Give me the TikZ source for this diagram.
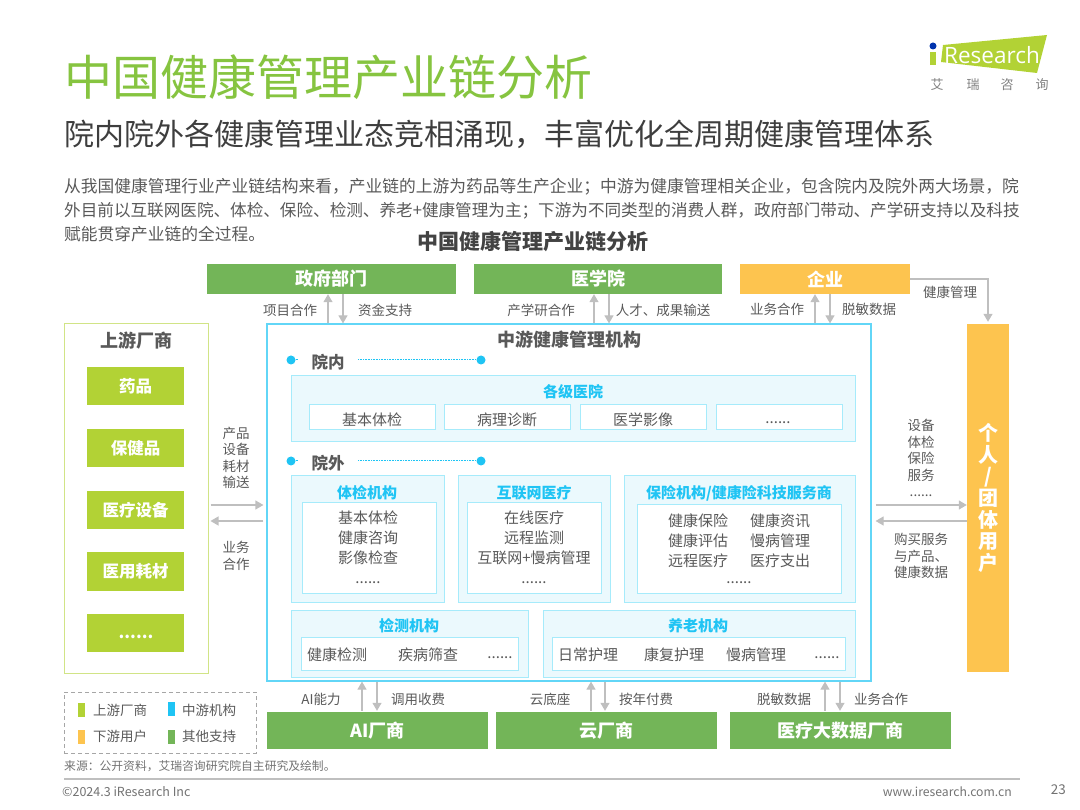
\documentclass[tikz,border=0pt]{standalone}
\usepackage{fontspec}
\setmainfont{Noto Sans CJK SC}
\newfontfamily\logofont{Open Sans}
\usetikzlibrary{arrows.meta,calc}
\definecolor{ttl}{HTML}{86C440}
\definecolor{txt}{HTML}{595959}
\definecolor{gr}{HTML}{73B558}
\definecolor{lime}{HTML}{B2D235}
\definecolor{org}{HTML}{FDC44F}
\definecolor{cy}{HTML}{1FC4F4}
\definecolor{cyl}{HTML}{A6EBFB}
\definecolor{pan}{HTML}{EBF9FD}
\definecolor{arr}{HTML}{BFBFBF}
\newcommand\fsz[2]{\fontsize{#1pt}{#2pt}\selectfont}
\newcommand\rbox[7]{%
  \pgfmathsetmacro\cxx{(#2+#4)/2}\pgfmathsetmacro\cyy{(#3+#5)/2}%
  \pgfmathsetmacro\ww{#4-#2}\pgfmathsetmacro\hh{#5-#3}%
  \node[#6,minimum width=\ww pt,minimum height=\hh pt,inner sep=0pt] (#1) at (\cxx,\cyy) {#7};}
\tikzset{
  x=1pt,y=-1pt,
  greenbox/.style={fill=gr,text=white,font=\fsz{18}{22}\bfseries},
  limebox/.style={fill=lime,text=white,font=\fsz{16.5}{20}\bfseries},
  panel/.style={fill=pan,draw=cyl,line width=1pt},
  inner box/.style={fill=white,draw=cyl,line width=1pt,text=txt,font=\fsz{15}{20}},
  paneltitle/.style={text=cy,font=\fsz{15}{18}\bfseries,inner sep=0pt},
  lbl/.style={text=txt,font=\fsz{13.5}{16.5},inner sep=0pt,align=center},
  item/.style={text=txt,font=\fsz{15}{20},inner sep=0pt,align=center},
  ar/.style={draw=arr,line width=1.2pt,-{Triangle[length=8pt,width=9pt]}},
  dot/.style={circle,fill=cy,minimum size=9pt,inner sep=0pt},
  dotline/.style={cy,line width=1pt,dash pattern=on 1pt off 0.6pt},
  sect/.style={fill=white,text=txt,font=\fsz{16.5}{20}\bfseries,inner sep=0pt,minimum width=60pt,minimum height=20pt},
  logochar/.style={text=gray,font=\fsz{13}{16},inner sep=0pt},
}
\begin{document}
\begin{tikzpicture}
\useasboundingbox (0,0) rectangle (1080,810);
% Heading
\node[anchor=west,text=ttl,font=\fsz{48}{56},inner sep=0pt] (title) at (64,77) {中国健康管理产业链分析};
\node[anchor=west,text=txt!70!black,font=\fsz{30}{36},inner sep=0pt] (sub) at (64,134) {院内院外各健康管理业态竞相涌现，丰富优化全周期健康管理体系};
\node[anchor=west,text=txt,font=\fsz{16.75}{20},inner sep=0pt] (body1) at (64,187) {从我国健康管理行业产业链结构来看，产业链的上游为药品等生产企业；中游为健康管理相关企业，包含院内及院外两大场景，院};
\node[anchor=west,text=txt,font=\fsz{16.6}{20},inner sep=0pt] (body2) at (64,211) {外目前以互联网医院、体检、保险、检测、养老+健康管理为主；下游为不同类型的消费人群，政府部门带动、产学研支持以及科技};
\node[anchor=west,text=txt,font=\fsz{16.75}{20},inner sep=0pt] (body3) at (64,234) {赋能贯穿产业链的全过程。};
\node[text=txt!75!black,font=\fsz{21}{25}\bfseries,inner sep=0pt] (ctitle) at (533,242) {中国健康管理产业链分析};
% Logo
\fill[lime] (943,45) -- (1047,35) -- (1037,73) -- (941,62) -- cycle;
\fill[lime] (930,52) rectangle (936,65);
\fill[blue!60!black!80!cyan] (933,46) circle (3.5pt);
\node[text=white,font=\logofont\fsz{22.5}{26},inner sep=0pt,anchor=west] (logo) at (944,55) {Research};
\node[logochar] (l1) at (937,85) {艾};
\node[logochar] (l2) at (973,85) {瑞};
\node[logochar] (l3) at (1007,85) {咨};
\node[logochar] (l4) at (1042,85) {询};
% Top row
\rbox{gov}{207}{264}{456}{294}{greenbox}{政府部门}
\rbox{med}{474}{264}{722}{294}{greenbox}{医学院}
\rbox{ent}{740}{264}{910}{294}{fill=org,text=white,font=\fsz{18}{22}\bfseries}{企业}
% Upstream
\rbox{up}{64}{324}{208}{673}{draw=lime!60,line width=1pt,fill=white}{}
\node[text=txt,font=\fsz{18}{22}\bfseries,inner sep=0pt] (uptitle) at (136,341) {上游厂商};
\rbox{u1}{87}{367}{184}{405}{limebox}{药品}
\rbox{u2}{87}{429}{184}{467}{limebox}{保健品}
\rbox{u3}{87}{491}{184}{529}{limebox}{医疗设备}
\rbox{u4}{87}{552}{184}{591}{limebox}{医用耗材}
\rbox{u5}{87}{614}{184}{652}{limebox}{}
\node[text=white,font=\fsz{16.5}{20}\bfseries,inner sep=0pt] (u5x) at (136,637) {......};
% Middle
\rbox{mid}{267}{324}{871}{681}{draw=cy!70,line width=1.2pt,fill=white}{}
\node[text=txt,font=\fsz{18}{22}\bfseries,inner sep=0pt] (midtitle) at (569,340) {中游健康管理机构};
\node[dot] (d1) at (291,360) {};
\node[dot] (d2) at (481,360) {};
\draw[dotline] (d1) -- (d2);
\node[sect] (inn) at (328,362) {院内};
\rbox{hosp}{291}{376}{855}{442}{panel}{}
\node[paneltitle] (hospt) at (573,392) {各级医院};
\rbox{h1}{309}{405}{435}{430}{inner box}{}
\rbox{h2}{444}{405}{570}{430}{inner box}{}
\rbox{h3}{580}{405}{706}{430}{inner box}{}
\rbox{h4}{716}{405}{842}{430}{inner box}{}
\node[item] (h1x) at (372,420) {基本体检};
\node[item] (h2x) at (507,420) {病理诊断};
\node[item] (h3x) at (643,420) {医学影像};
\node[item] (h4x) at (778,423) {......};
\node[dot] (d3) at (291,461) {};
\node[dot] (d4) at (481,461) {};
\draw[dotline] (d3) -- (d4);
\node[sect] (out) at (328,463) {院外};
% Exam
\rbox{exam}{291}{476}{444}{602}{panel}{}
\node[paneltitle] (examt) at (367,493) {体检机构};
\rbox{examb}{302}{502}{436}{593}{inner box}{}
\node[item] (examx) at (368,547) {基本体检\\健康咨询\\影像检查\\......};
% Internet
\rbox{net}{458}{476}{610}{602}{panel}{}
\node[paneltitle] (nett) at (534,493) {互联网医疗};
\rbox{netb}{467}{502}{601}{593}{inner box}{}
\node[item] (netx) at (534,547) {在线医疗\\远程监测\\互联网+慢病管理\\......};
% Insurance
\rbox{ins}{624}{476}{855}{602}{panel}{}
\node[paneltitle] (inst) at (739,493) {保险机构/健康险科技服务商};
\rbox{insb}{637}{504}{841}{593}{inner box}{}
\node[item] (insx) at (698,541) {健康保险\\健康评估\\远程医疗};
\node[item] (insy) at (780,541) {健康资讯\\慢病管理\\医疗支出};
\node[item] (insz) at (739,583) {......};
% Testing
\rbox{test}{291}{610}{528}{677}{panel}{}
\node[paneltitle] (testt) at (409,626) {检测机构};
\rbox{testb}{301}{637}{518}{670}{inner box}{}
\node[item] (t1) at (337,654.5) {健康检测};
\node[item] (t2) at (428,654.5) {疾病筛查};
\node[item] (t3) at (500,658) {......};
% Elderly
\rbox{old}{543}{610}{855}{677}{panel}{}
\node[paneltitle] (oldt) at (698,626) {养老机构};
\rbox{oldb}{552}{637}{845}{670}{inner box}{}
\node[item] (o1) at (588,654.5) {日常护理};
\node[item] (o2) at (674,654.5) {康复护理};
\node[item] (o3) at (756,654.5) {慢病管理};
\node[item] (o4) at (827,658) {......};
% User
\rbox{user}{967}{324}{1009}{672}{fill=org,text=white,font=\fsz{20}{21.7}\bfseries,align=center}{个\\人\\/\\团\\体\\用\\户}
% Bottom
\rbox{ai}{267}{712}{488}{749}{greenbox}{AI厂商}
\rbox{cloud}{496}{712}{717}{749}{greenbox}{云厂商}
\rbox{big}{730}{712}{951}{749}{greenbox}{医疗大数据厂商}
% Top arrows
\draw[ar] (328,0 |- mid.north) -- (328,0 |- gov.south);
\draw[ar] (343,0 |- gov.south) -- (343,0 |- mid.north);
\draw[ar] (594,0 |- mid.north) -- (594,0 |- med.south);
\draw[ar] (609,0 |- med.south) -- (609,0 |- mid.north);
\draw[ar] (815,0 |- mid.north) -- (815,0 |- ent.south);
\draw[ar] (830,0 |- ent.south) -- (830,0 |- mid.north);
\draw[ar,shorten >=2pt] (ent.east) -| (user.north);
% Bottom arrows
\draw[ar,shorten <=1pt] (362,0 |- ai.north) -- (362,0 |- mid.south);
\draw[ar,shorten >=1pt] (377,0 |- mid.south) -- (377,0 |- ai.north);
\draw[ar,shorten <=1pt] (591,0 |- cloud.north) -- (591,0 |- mid.south);
\draw[ar,shorten >=1pt] (605,0 |- mid.south) -- (605,0 |- cloud.north);
\draw[ar,shorten <=1pt] (825,0 |- big.north) -- (825,0 |- mid.south);
\draw[ar,shorten >=1pt] (840,0 |- mid.south) -- (840,0 |- big.north);
% Side arrows
\draw[ar,shorten <=2pt,shorten >=3pt] (up.east |- 0,505) -- (mid.west |- 0,505);
\draw[ar,shorten <=3pt,shorten >=2pt] (mid.west |- 0,521) -- (up.east |- 0,521);
\draw[ar,shorten <=4pt] (mid.east |- 0,505) -- (user.west |- 0,505);
\draw[ar,shorten >=4pt] (user.west |- 0,521) -- (mid.east |- 0,521);
% Labels
\node[lbl] (a1) at (290,310) {项目合作};
\node[lbl] (a2) at (385,310) {资金支持};
\node[lbl] (a3) at (541,310) {产学研合作};
\node[lbl] (a4) at (663,310) {人才、成果输送};
\node[lbl] (a5) at (777,309) {业务合作};
\node[lbl] (a6) at (869,309) {脱敏数据};
\node[lbl] (a7) at (950,292) {健康管理};
\node[lbl] (a8) at (236,458) {产品\\设备\\耗材\\输送};
\node[lbl] (a9) at (236,556) {业务\\合作};
\node[lbl] (a10) at (921,458) {设备\\体检\\保险\\服务\\......};
\node[lbl] (a11) at (921,556) {购买服务\\与产品、\\健康数据};
\node[lbl] (b1) at (321,699) {AI能力};
\node[lbl] (b2) at (418,699) {调用收费};
\node[lbl] (b3) at (550,699) {云底座};
\node[lbl] (b4) at (646,699) {按年付费};
\node[lbl] (b5) at (784,699) {脱敏数据};
\node[lbl] (b6) at (881,699) {业务合作};
% Legend
\rbox{leg}{64}{692}{256}{753}{draw=gray!70,dash pattern=on 4pt off 3pt,line width=1pt}{}
\rbox{s1}{78}{703}{85}{717}{fill=lime}{}
\rbox{s2}{168}{702}{175}{716}{fill=cy}{}
\rbox{s3}{78}{730}{85}{744}{fill=org}{}
\rbox{s4}{168}{730}{175}{744}{fill=gr}{}
\node[lbl,anchor=west] (g1) at (93,710) {上游厂商};
\node[lbl,anchor=west] (g2) at (182,710) {中游机构};
\node[lbl,anchor=west] (g3) at (93,736) {下游用户};
\node[lbl,anchor=west] (g4) at (182,736) {其他支持};
% Footer
\node[anchor=west,text=txt!85,font=\fsz{11.8}{15},inner sep=0pt] (src) at (64,766) {来源：公开资料，艾瑞咨询研究院自主研究及绘制。};
\draw[gray!50,line width=1.4pt] (64,779) -- (1020,779);
\node[anchor=west,text=txt!85,font=\fsz{12.5}{15},inner sep=0pt] (copy) at (62,792) {©2024.3 iResearch Inc};
\node[anchor=east,text=txt!85,font=\fsz{12.2}{15},inner sep=0pt] (web) at (1012,792) {www.iresearch.com.cn};
\node[anchor=east,text=txt!85,font=\fsz{13.5}{15},inner sep=0pt] (pg) at (1066,790) {23};
\end{tikzpicture}
\end{document}
